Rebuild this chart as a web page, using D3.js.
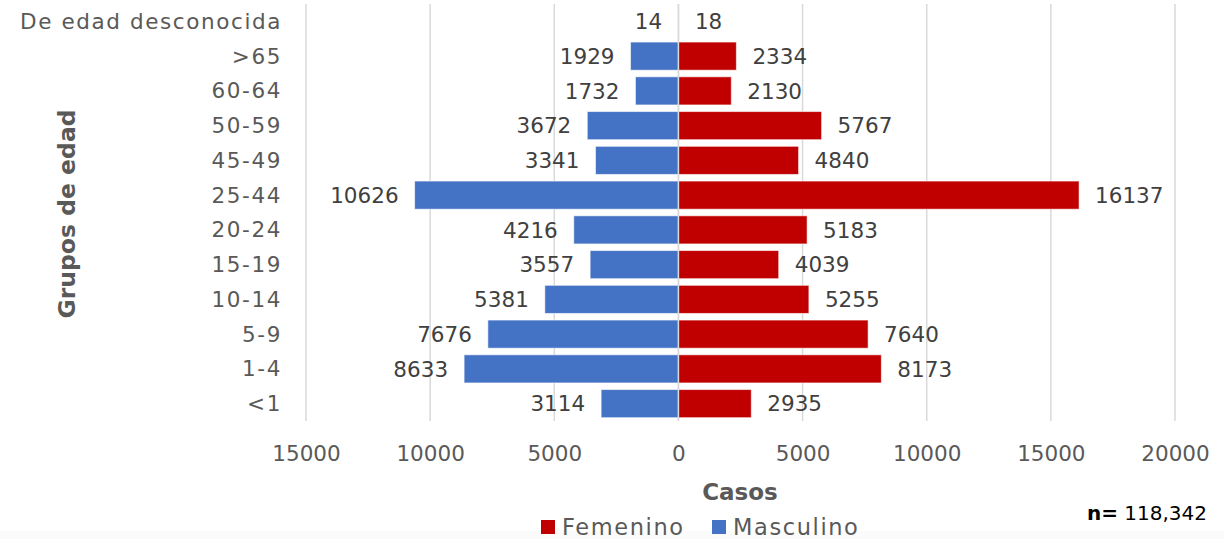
<!DOCTYPE html>
<html><head><meta charset="utf-8">
<script src="https://cdn.jsdelivr.net/npm/d3@7"></script>
<style>body{margin:0;background:#fff}svg{display:block}text{font-family:"DejaVu Sans",sans-serif}</style>
</head><body><svg id="c" width="1224" height="539"></svg>
<script>
const categories = ["De edad desconocida", ">65", "60-64", "50-59", "45-49", "25-44", "20-24", "15-19", "10-14", "5-9", "1-4", "<1"];
const masculino = [14, 1929, 1732, 3672, 3341, 10626, 4216, 3557, 5381, 7676, 8633, 3114];
const femenino = [18, 2334, 2130, 5767, 4840, 16137, 5183, 4039, 5255, 7640, 8173, 2935];
const ticks = [-15000, -10000, -5000, 0, 5000, 10000, 15000, 20000];
const colors = {Femenino: "#C00000", Masculino: "#4472C4"};

const svg = d3.select("#c");
svg.append("rect").attr("x",0).attr("y",531).attr("width",1224).attr("height",8).attr("fill","#fbfbfb");

const x = d3.scaleLinear().domain([-15000, 20000]).range([306, 1175]);
const y = d3.scaleBand().domain(categories).range([4, 421]).paddingInner(0.19).paddingOuter(0.095);

// gridlines
svg.append("g").selectAll("line").data(ticks).join("line")
  .attr("x1", d => x(d)).attr("x2", d => x(d)).attr("y1", 4).attr("y2", 421)
  .attr("stroke", "#d9d9d9").attr("stroke-width", 1.5);

// x axis
const xAxis = d3.axisBottom(x).tickValues(ticks).tickFormat(d => Math.abs(d)).tickSize(0).tickPadding(0);
const gx = svg.append("g").attr("transform", "translate(0,421)").call(xAxis);
gx.select(".domain").remove();
gx.selectAll("text").attr("dy", null).attr("y", 40).attr("fill", "#595959").attr("font-size", 21.5);

// y axis
const yAxis = d3.axisLeft(y).tickSize(0).tickPadding(0);
const gy = svg.append("g").attr("transform", "translate(282,0)").call(yAxis);
gy.select(".domain").remove();
gy.selectAll("text").attr("fill", "#595959").attr("font-size", 21.5).attr("letter-spacing", 1.6).attr("dy", "0.35em");

// bars
const bh = y.bandwidth();
svg.append("g").selectAll("rect").data(categories).join("rect")
  .attr("x", (d,i) => x(-masculino[i])).attr("width", (d,i) => x(0) - x(-masculino[i]))
  .attr("y", d => y(d)).attr("height", bh)
  .attr("fill", colors.Masculino).attr("stroke", "#ffffff").attr("stroke-opacity", 0.6).attr("stroke-width", 1);
svg.append("g").selectAll("rect").data(categories).join("rect")
  .attr("x", x(0)).attr("width", (d,i) => x(femenino[i]) - x(0))
  .attr("y", d => y(d)).attr("height", bh)
  .attr("fill", colors.Femenino).attr("stroke", "#ffffff").attr("stroke-opacity", 0.6).attr("stroke-width", 1);

// zero line over bars
svg.append("line").attr("x1", x(0)).attr("x2", x(0)).attr("y1", 4).attr("y2", 421)
  .attr("stroke", "#d9d9d9").attr("stroke-width", 1.5);

// labels
svg.append("g").selectAll("text").data(categories).join("text")
  .attr("x", (d,i) => x(-masculino[i]) - 16).attr("y", d => y(d) + bh/2).attr("dy", "0.36em")
  .attr("text-anchor", "end").attr("fill", "#404040").attr("font-size", 21.5)
  .text((d,i) => masculino[i]);
svg.append("g").selectAll("text").data(categories).join("text")
  .attr("x", (d,i) => x(femenino[i]) + 16).attr("y", d => y(d) + bh/2).attr("dy", "0.36em")
  .attr("text-anchor", "start").attr("fill", "#404040").attr("font-size", 21.5)
  .text((d,i) => femenino[i]);

// axis titles
svg.append("text").attr("x", 740).attr("y", 500).attr("text-anchor", "middle")
  .attr("font-size", 23).attr("font-weight", "bold").attr("fill", "#595959").text("Casos");
svg.append("text").attr("transform", "translate(75,214) rotate(-90)").attr("text-anchor", "middle")
  .attr("font-size", 23.5).attr("font-weight", "bold").attr("fill", "#595959").text("Grupos de edad");

// legend
const legend = [{k:"Femenino", x:541}, {k:"Masculino", x:712}];
const lg = svg.append("g").selectAll("g").data(legend).join("g").attr("transform", d => `translate(${d.x},520)`);
lg.append("rect").attr("width", 14).attr("height", 14).attr("fill", d => colors[d.k]);
lg.append("text").attr("x", 21).attr("y", 14.5).attr("font-size", 22.5).attr("letter-spacing", 1.6).attr("fill", "#595959").text(d => d.k);

// n
const nt = svg.append("text").attr("x", 1207).attr("y", 520).attr("text-anchor", "end").attr("font-size", 20).attr("fill", "#000");
nt.append("tspan").attr("font-weight", "bold").text("n=");
nt.append("tspan").text(" 118,342");
</script></body></html>
